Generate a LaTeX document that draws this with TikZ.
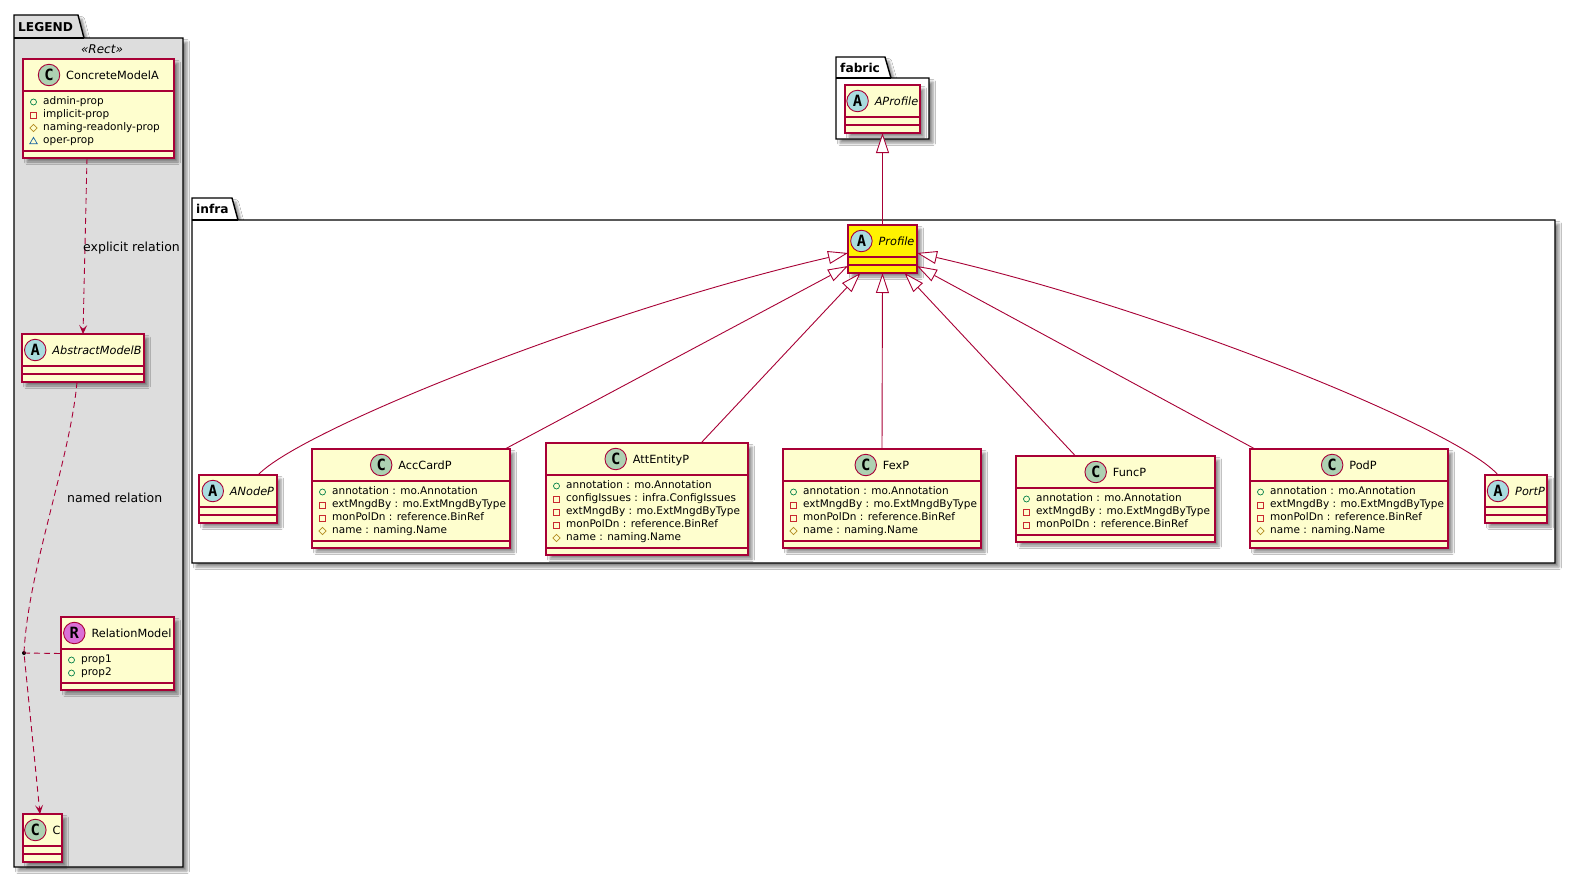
\documentclass[tikz,border=0pt]{standalone}
\usepackage{fontspec}
\setmainfont{DejaVu Sans}
\newfontfamily\spotfont{DejaVu Sans Mono}
\usetikzlibrary{arrows.meta,shadows.blur}

\definecolor{umlred}{HTML}{A80036}
\definecolor{clsfill}{HTML}{FEFECE}
\definecolor{spotC}{HTML}{ADD1B2}
\definecolor{spotA}{HTML}{A9DCDF}
\definecolor{spotR}{HTML}{DA70D6}
\definecolor{pkgfill}{HTML}{DDDDDD}
\definecolor{vpubc}{HTML}{038048}
\definecolor{vprivc}{HTML}{C82930}
\definecolor{vprotc}{HTML}{B38D22}
\definecolor{vpkgc}{HTML}{1963A0}

\tikzset{
  umlshadow/.style={blur shadow={shadow xshift=4pt, shadow yshift=-4pt, shadow blur radius=2.5pt, shadow opacity=45}},
  clsbox/.style={draw=umlred, line width=1.3pt, fill=clsfill, anchor=north west, inner sep=0pt, outer sep=0pt, umlshadow},
  sepline/.style={draw=umlred, line width=1.3pt},
  hdr/.style={inner sep=0pt, text height=9pt, text depth=1pt, font=\fontsize{11.3}{13}\selectfont},
  spot/.style={circle, draw=umlred, line width=0.9pt, minimum size=21.5pt, inner sep=0pt, font=\spotfont\bfseries\fontsize{15.5}{15.5}\selectfont},
  attr/.style={inner sep=0pt, anchor=west, text height=7.5pt, text depth=2pt, font=\fontsize{10.5}{12}\selectfont},
  pkg/.style={draw=black, line width=1.4pt, umlshadow},
  pkgline/.style={draw=black, line width=1.4pt},
  pkgname/.style={font=\bfseries\fontsize{12.2}{14}\selectfont, inner sep=0pt, anchor=west, text height=9pt, text depth=0pt},
  umledge/.style={draw=umlred, line width=0.9pt},
  dep/.style={umledge, dash pattern=on 6pt off 4pt, -{Stealth[length=9pt,width=8pt,inset=4pt]}},
  gen/.style={umledge, -{Triangle[length=20pt,width=13pt,fill=white]}},
  elabel/.style={font=\fontsize{12.5}{14}\selectfont, inner sep=0pt, anchor=west},
  stereo/.style={font=\itshape\fontsize{12}{14}\selectfont, inner sep=0pt},
  vispub/.pic={\draw[vpubc, line width=0.7pt] (0,0) circle (3);},
  vispriv/.pic={\draw[vprivc, line width=0.7pt] (-3,-3) rectangle (3,3);},
  visprot/.pic={\draw[vprotc, line width=0.7pt] (0,-3.6) -- (3.6,0) -- (0,3.6) -- (-3.6,0) -- cycle;},
  vispkg/.pic={\draw[vpkgc, line width=0.7pt] (-3.8,2.8) -- (3.8,2.8) -- (0,-3.6) -- cycle;},
}

\newcommand\umlclass[6][clsfill]{\node[clsbox, fill=#1, minimum width=#5pt, minimum height=#6pt] (#2) at (#3,#4) {};}
\newcommand\umlseps[3]{%
  \draw[sepline] ([yshift=-#2pt]#1.north west) -- ([yshift=-#2pt]#1.north east);
  \draw[sepline] ([yshift=-#3pt]#1.north west) -- ([yshift=-#3pt]#1.north east);}
\newcommand\umlhead[4]{%
  \node[hdr] (#1h) at ([yshift=-16pt]#1.north) {\hspace{28pt}#4};
  \node[spot, fill=#3] (#1s) at ([xshift=11pt]#1h.west) {#2};}
\newcommand\umlattr[4]{%
  \pic at ([xshift=10.5pt,yshift=-#2pt]#1.north west) {#3};
  \node[attr] (#1r#2) at ([xshift=20pt,yshift=-#2pt]#1.north west) {#4};}

\begin{document}
\begin{tikzpicture}[x=1pt,y=-1pt]
\useasboundingbox (0,0) rectangle (1576,881);
\fill[white] (0,0) rectangle (1576,881);

% ---------- packages ----------
\path[pkg, fill=pkgfill] (14,15) -- (78,15) -- (84,38) -- (183,38) -- (183,867) -- (14,867) -- cycle;
\draw[pkgline] (14,38) -- (84,38);
\node[pkgname] (legendname) at (18,26.5) {LEGEND};
\node[stereo] (legendstereo) at (102,49) {«Rect»};

\path[pkg, fill=white] (836,57) -- (885,57) -- (891,78) -- (929,78) -- (929,139) -- (836,139) -- cycle;
\draw[pkgline] (836,78) -- (891,78);
\node[pkgname] (fabricname) at (840,67.5) {fabric};

\path[pkg, fill=white] (192,198) -- (232,198) -- (238,220) -- (1555,220) -- (1555,563) -- (192,563) -- cycle;
\draw[pkgline] (192,220) -- (238,220);
\node[pkgname] (infraname) at (196,209) {infra};

% ---------- legend classes ----------
\umlclass{cma}{23}{59}{151}{99}
\umlseps{cma}{32}{92}
\umlhead{cma}{C}{spotC}{ConcreteModelA}
\umlattr{cma}{43}{vispub}{admin-prop}
\umlattr{cma}{56}{vispriv}{implicit-prop}
\umlattr{cma}{69}{visprot}{naming-readonly-prop}
\umlattr{cma}{82}{vispkg}{oper-prop}

\umlclass{amb}{22}{334}{122}{48}
\umlseps{amb}{32}{40}
\umlhead{amb}{A}{spotA}{\textit{AbstractModelB}}

\umlclass{rel}{61}{617}{113}{73}
\umlseps{rel}{32}{66}
\umlhead{rel}{R}{spotR}{RelationModel}
\umlattr{rel}{43}{vispub}{prop1}
\umlattr{rel}{56}{vispub}{prop2}

\umlclass{cc}{23}{814}{39}{48}
\umlseps{cc}{32}{40}
\umlhead{cc}{C}{spotC}{C}

% ---------- fabric / infra classes ----------
\umlclass{aprof}{845}{85}{75}{48}
\umlseps{aprof}{32}{40}
\umlhead{aprof}{A}{spotA}{\textit{AProfile}}

\umlclass[yellow]{prof}{848}{225}{69}{48}
\umlseps{prof}{32}{40}
\umlhead{prof}{A}{spotA}{\textit{Profile}}

\umlclass{anode}{199}{475}{78}{48}
\umlseps{anode}{32}{40}
\umlhead{anode}{A}{spotA}{\textit{ANodeP}}

\umlclass{acc}{312}{449}{198}{99}
\umlseps{acc}{32}{92}
\umlhead{acc}{C}{spotC}{AccCardP}
\umlattr{acc}{43}{vispub}{annotation : mo.Annotation}
\umlattr{acc}{56}{vispriv}{extMngdBy : mo.ExtMngdByType}
\umlattr{acc}{69}{vispriv}{monPolDn : reference.BinRef}
\umlattr{acc}{82}{visprot}{name : naming.Name}

\umlclass{att}{546}{443}{202}{112}
\umlseps{att}{32}{105}
\umlhead{att}{C}{spotC}{AttEntityP}
\umlattr{att}{43}{vispub}{annotation : mo.Annotation}
\umlattr{att}{56}{vispriv}{configIssues : infra.ConfigIssues}
\umlattr{att}{69}{vispriv}{extMngdBy : mo.ExtMngdByType}
\umlattr{att}{82}{vispriv}{monPolDn : reference.BinRef}
\umlattr{att}{95}{visprot}{name : naming.Name}

\umlclass{fex}{783}{449}{198}{99}
\umlseps{fex}{32}{92}
\umlhead{fex}{C}{spotC}{FexP}
\umlattr{fex}{43}{vispub}{annotation : mo.Annotation}
\umlattr{fex}{56}{vispriv}{extMngdBy : mo.ExtMngdByType}
\umlattr{fex}{69}{vispriv}{monPolDn : reference.BinRef}
\umlattr{fex}{82}{visprot}{name : naming.Name}

\umlclass{func}{1016}{456}{199}{86}
\umlseps{func}{32}{79}
\umlhead{func}{C}{spotC}{FuncP}
\umlattr{func}{43}{vispub}{annotation : mo.Annotation}
\umlattr{func}{56}{vispriv}{extMngdBy : mo.ExtMngdByType}
\umlattr{func}{69}{vispriv}{monPolDn : reference.BinRef}

\umlclass{pod}{1250}{449}{198}{99}
\umlseps{pod}{32}{92}
\umlhead{pod}{C}{spotC}{PodP}
\umlattr{pod}{43}{vispub}{annotation : mo.Annotation}
\umlattr{pod}{56}{vispriv}{extMngdBy : mo.ExtMngdByType}
\umlattr{pod}{69}{vispriv}{monPolDn : reference.BinRef}
\umlattr{pod}{82}{visprot}{name : naming.Name}

\umlclass{port}{1485}{475}{62}{48}
\umlseps{port}{32}{40}
\umlhead{port}{A}{spotA}{\textit{PortP}}

% ---------- legend connectors ----------
\draw[dep] ([xshift=-11.5pt]cma.south) -- (amb.north);
\node[elabel] (lblexp) at (83,248) {explicit relation};
\node[circle, fill=black, inner sep=0pt, minimum size=4pt] (rdot) at (24,653) {};
\draw[dep] ([xshift=-6pt]amb.south) .. controls (70,460) and (28,570) .. (rdot.center) -- ([xshift=-2.5pt]cc.north);
\draw[umledge, dash pattern=on 6pt off 4pt] (rdot.center) -- (rel.west);
\node[elabel] (lblnamed) at (67,498) {named relation};

% ---------- generalisations ----------
\draw[gen] (prof.north) -- (aprof.south);
\draw[gen] ([xshift=20pt]anode.north) .. controls (300,430) and (600,310) .. ([yshift=-4pt]prof.west);
\draw[gen] ([xshift=-5pt]acc.north east) -- ([yshift=-17pt]prof.west);
\draw[gen] ([xshift=54pt]att.north) -- ([xshift=-22pt]prof.south);
\draw[gen] (fex.north) -- (prof.south);
\draw[gen] ([xshift=-40pt]func.north) -- ([xshift=22pt]prof.south);
\draw[gen] ([xshift=5pt]pod.north west) -- ([yshift=-17pt]prof.east);
\draw[gen] ([xshift=-18pt]port.north) .. controls (1460,430) and (1165,310) .. ([yshift=-4pt]prof.east);
\end{tikzpicture}
\end{document}
